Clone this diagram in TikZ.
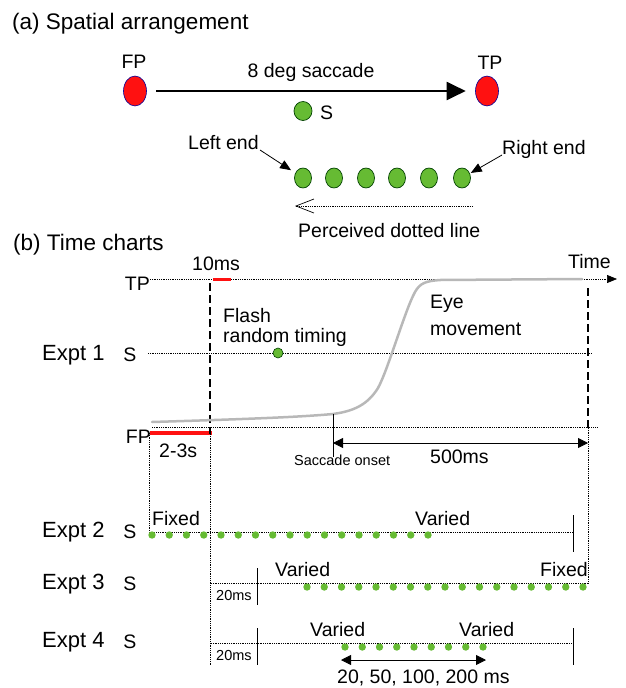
\documentclass[tikz,border=0pt]{standalone}
\usepackage{fontspec}
\setmainfont{Liberation Sans}
\usetikzlibrary{arrows.meta,shapes.geometric}
\definecolor{dotgreen}{HTML}{66BB33}
\definecolor{dotred}{HTML}{FF1111}
\definecolor{eyegray}{HTML}{B8B8B8}
\begin{document}
\begin{tikzpicture}[x=1pt,y=-1pt,
  lbl/.style={font=\fontsize{19.5}{22}\selectfont, inner sep=0pt, anchor=base west},
  head/.style={font=\fontsize{22.5}{26}\selectfont, inner sep=0pt, anchor=base west},
  expt/.style={font=\fontsize{22}{26}\selectfont, inner sep=0pt, anchor=base west},
  small/.style={font=\fontsize{14.5}{17}\selectfont, inner sep=0pt, anchor=base west},
  bigdot/.style={ellipse, minimum width=23pt, minimum height=30pt, inner sep=0pt, fill=dotred, draw=blue!60!black, line width=0.6pt},
  gdot/.style={ellipse, minimum width=18pt, minimum height=19pt, inner sep=0pt, fill=dotgreen, draw=green!25!black, line width=0.7pt},
  thinline/.style={line width=0.7pt, dash pattern=on 1pt off 0.8pt, black},
  tickline/.style={line width=0.8pt, black},
  thickdash/.style={line width=2pt, dash pattern=on 8pt off 4pt, black},
  redbar/.style={line width=3.5pt, dotred},
  tip/.style={-{Triangle[length=10pt,width=10pt]}},
  dtip/.style={{Triangle[length=10pt,width=10pt]}-{Triangle[length=10pt,width=10pt]}},
]
\useasboundingbox (0,0) rectangle (626,688);

% ---------------- (a) Spatial arrangement ----------------
\node[head] (titlea) at (12,29) {(a) Spatial arrangement};
\node[bigdot] (fpdot) at (135,91) {};
\node[bigdot] (tpdot) at (487,91) {};
\node[lbl, anchor=base] (fplbl) at (134,68) {FP};
\node[lbl, anchor=base] (tplbl) at (490,69) {TP};
\node[lbl, anchor=base] (sacc) at (311,77) {8 deg saccade};
\draw[line width=2pt, -{Triangle[length=19pt,width=18pt]}, shorten <=9.5pt, shorten >=9.5pt] (fpdot) -- (tpdot);

\node[gdot] (sdot) at (303,111) {};
\node[lbl] (slbl) at (320,119) {S};

\foreach \i/\x in {1/303,2/334,3/366,4/397,5/429,6/462}
  \node[gdot, minimum width=17pt, minimum height=20pt] (d\i) at (\x,178) {};

\node[lbl] (leftlbl) at (188,149) {Left end};
\node[lbl] (rightlbl) at (502,154) {Right end};
\coordinate (lstart) at (260,150);
\coordinate (rstart) at (502,155);
\draw[line width=0.8pt, -{Triangle[length=11pt,width=9pt]}, shorten >=5pt] (lstart) -- (d1);
\draw[line width=0.8pt, -{Triangle[length=11pt,width=9pt]}, shorten >=1pt] (rstart) -- (d6);

\coordinate (pstart) at (473,206);
\coordinate (pend) at (295,206);
\draw[line width=0.6pt, dash pattern=on 1pt off 0.8pt, -{Straight Barb[length=18pt,width=14pt,line width=0.7pt]}] (pstart) -- (pend);
\node[lbl] (perc) at (298,237) {Perceived dotted line};

% ---------------- (b) Time charts ----------------
\node[head] (titleb) at (13,250) {(b) Time charts};

\node[lbl, anchor=base east] (tpl) at (150,290) {TP};
\node[lbl, anchor=base east] (fpl) at (151,443) {FP};

\node[expt] (e1) at (42,360) {Expt 1};
\node[expt] (e2) at (42,537) {Expt 2};
\node[expt] (e3) at (42,589) {Expt 3};
\node[expt] (e4) at (42,647) {Expt 4};
\node[lbl, anchor=base] (s1) at (130,361) {S};
\node[lbl, anchor=base] (s2) at (130,538) {S};
\node[lbl, anchor=base] (s3) at (130,590) {S};
\node[lbl, anchor=base] (s4) at (130,648) {S};

% TP time axis
\coordinate (tpA) at (150,279);
\coordinate (tpB) at (617,279);
\draw[thinline, -{Triangle[length=10pt,width=8pt]}] (tpA) -- (tpB);
\node[lbl] (time) at (568,268) {Time};
\node[lbl] (tenms) at (192,270) {10ms};
\coordinate (r1a) at (213,279);
\coordinate (r1b) at (231,279);
\draw[redbar, line width=3pt] (r1a) -- (r1b);

% S line of Expt 1
\coordinate (sA) at (148,353);
\coordinate (sB) at (592,353);
\draw[thinline] (sA) -- (sB);
\node[circle, fill=dotgreen, draw=green!25!black, line width=0.6pt, minimum size=10pt, inner sep=0pt] (flash) at (278,353) {};
\node[lbl] (flashA) at (223,322) {Flash};
\node[lbl] (flashB) at (223,342) {random timing};
\node[lbl] (eyeA) at (430,308) {Eye};
\node[lbl] (eyeB) at (430,335) {movement};

% FP line
\coordinate (fpA) at (152,427);
\coordinate (fpB) at (597,427);
\draw[thinline] (fpA) -- (fpB);
\coordinate (r2a) at (150,433);
\coordinate (r2b) at (212,433);
\draw[redbar, line width=4pt] (r2a) -- (r2b);
\node[lbl] (dur) at (159,457) {2-3s};

% vertical markers
\coordinate (v1top) at (210,283);
\coordinate (v1mid) at (210,434);
\coordinate (v1bot) at (210,665);
\draw[thickdash] (v1top) -- (v1mid);
\draw[thinline] (v1mid) -- (v1bot);
\coordinate (v2top) at (588,288);
\coordinate (v2mid) at (588,428);
\coordinate (v2bot) at (588,583);
\draw[thickdash] (v2top) -- (v2mid);
\draw[thinline] (v2mid) -- (v2bot);
\coordinate (v0top) at (149,433);
\coordinate (v0bot) at (149,532);
\draw[thinline] (v0top) -- (v0bot);

% eye movement trace
\draw[eyegray, line width=2.5pt, line cap=round]
  (152,422) .. controls (250,419) and (300,417) .. (333,414)
  .. controls (355,411) and (368,404) .. (378,388)
  .. controls (388,370) and (405,310) .. (415,292)
  .. controls (420,283) and (426,281) .. (440,280)
  -- (582,279);

% saccade onset and 500 ms
\coordinate (so1) at (333,414);
\coordinate (so2) at (333,457);
\draw[tickline, line width=0.7pt] (so1) -- (so2);
\node[small] (sonset) at (294,465) {Saccade onset};
\coordinate (m5a) at (333,443);
\coordinate (m5b) at (588,443);
\draw[tickline, dtip] (m5a) -- (m5b);
\node[lbl] (fivems) at (430,463) {500ms};

% Expt 2
\coordinate (e2a) at (149,532);
\coordinate (e2b) at (573,532);
\draw[thinline] (e2a) -- (e2b);
\coordinate (t2a) at (573,515);
\coordinate (t2b) at (573,552);
\draw[tickline] (t2a) -- (t2b);
\foreach \i in {0,...,16} \fill[dotgreen] (152+17.25*\i,535) circle[radius=3.7pt];
\node[lbl] (fx2) at (152,525) {Fixed};
\node[lbl] (va2) at (415,525) {Varied};

% Expt 3
\coordinate (e3a) at (211,583);
\coordinate (e3b) at (588,583);
\draw[thinline] (e3a) -- (e3b);
\coordinate (t3a) at (257,568);
\coordinate (t3b) at (257,605);
\draw[tickline] (t3a) -- (t3b);
\foreach \i in {0,...,16} \fill[dotgreen] (307+17.25*\i,587) circle[radius=3.7pt];
\node[small] (ms3) at (216,600) {20ms};
\node[lbl] (va3) at (275,576) {Varied};
\node[lbl, anchor=base east] (fx3) at (588,576) {Fixed};

% Expt 4
\coordinate (e4a) at (211,643);
\coordinate (e4b) at (573,643);
\draw[thinline] (e4a) -- (e4b);
\coordinate (t4a) at (257,628);
\coordinate (t4b) at (257,665);
\draw[tickline] (t4a) -- (t4b);
\coordinate (t4c) at (573,628);
\coordinate (t4d) at (573,665);
\draw[tickline] (t4c) -- (t4d);
\foreach \i in {0,...,8} \fill[dotgreen] (345+17.25*\i,647) circle[radius=3.7pt];
\node[small] (ms4) at (216,660) {20ms};
\node[lbl] (va4a) at (310,636) {Varied};
\node[lbl] (va4b) at (459,636) {Varied};
\coordinate (w4a) at (341,660);
\coordinate (w4b) at (486,660);
\draw[tickline, dtip] (w4a) -- (w4b);
\node[lbl] (durs) at (337,683) {20, 50, 100, 200 ms};
\end{tikzpicture}
\end{document}
